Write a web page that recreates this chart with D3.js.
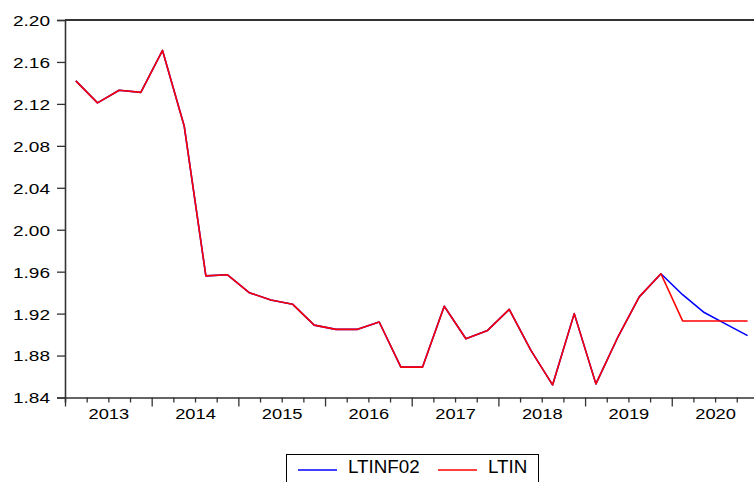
<!DOCTYPE html>
<html>
<head>
<meta charset="utf-8">
<script src="https://cdn.jsdelivr.net/npm/d3@7"></script>
<style>
  html, body { margin: 0; padding: 0; background: #fff; }
  svg { display: block; }
  text { font-family: Arial, "Liberation Sans", Helvetica, sans-serif; fill: #000; }
</style>
</head>
<body>
<svg id="chart" width="754" height="482"></svg>
<script>
// Quarterly periods, 2013Q1 - 2020Q4
const years = [2013, 2014, 2015, 2016, 2017, 2018, 2019, 2020];
const quarters = [
  "2013Q1","2013Q2","2013Q3","2013Q4","2014Q1","2014Q2","2014Q3","2014Q4",
  "2015Q1","2015Q2","2015Q3","2015Q4","2016Q1","2016Q2","2016Q3","2016Q4",
  "2017Q1","2017Q2","2017Q3","2017Q4","2018Q1","2018Q2","2018Q3","2018Q4",
  "2019Q1","2019Q2","2019Q3","2019Q4","2020Q1","2020Q2","2020Q3","2020Q4"
];

// Forecast series (LTINF02) and actual/static series (LTIN)
const ltinf02 = [
  2.142, 2.121, 2.133, 2.131, 2.171, 2.099, 1.956, 1.957,
  1.940, 1.933, 1.929, 1.909, 1.905, 1.905, 1.912, 1.869,
  1.869, 1.927, 1.896, 1.904, 1.924, 1.885, 1.852, 1.920,
  1.853, 1.897, 1.936, 1.958, 1.938, 1.921, 1.910, 1.899
];
const ltin = [
  2.142, 2.121, 2.133, 2.131, 2.171, 2.099, 1.956, 1.957,
  1.940, 1.933, 1.929, 1.909, 1.905, 1.905, 1.912, 1.869,
  1.869, 1.927, 1.896, 1.904, 1.924, 1.885, 1.852, 1.920,
  1.853, 1.897, 1.936, 1.958, 1.913, 1.913, 1.913, 1.913
];

const yTicks = [1.84, 1.88, 1.92, 1.96, 2.00, 2.04, 2.08, 2.12, 2.16, 2.20];
const seriesNames = ["LTINF02", "LTIN"];
const seriesColors = ["#0000ff", "#ff0000"];

const svg = d3.select("#chart");

const plotLeft = 65, plotTop = 20, plotBottom = 397.5;
const qWidth = 21.67;

const x = d3.scaleLinear()
  .domain([0, quarters.length])
  .range([plotLeft, plotLeft + quarters.length * qWidth]);
const y = d3.scaleLinear()
  .domain([1.84, 2.20])
  .range([plotBottom, plotTop]);

const yStretch = 1.27; // horizontally widened tick lettering
const xStretch = 1.22;

// top frame line
svg.append("line")
  .attr("x1", plotLeft).attr("x2", 754)
  .attr("y1", plotTop).attr("y2", plotTop)
  .attr("stroke", "#333").attr("stroke-width", 2);

// Y axis
const yAxis = svg.append("g")
  .attr("transform", `translate(${plotLeft},0)`)
  .call(d3.axisLeft(y).tickValues(yTicks).tickFormat(d3.format(".2f")).tickSize(8).tickPadding(7));
yAxis.select(".domain").attr("stroke", "#333").attr("stroke-width", 1.6);
yAxis.selectAll(".tick line").attr("stroke", "#333").attr("stroke-width", 1.3);
yAxis.selectAll(".tick text")
  .attr("font-size", 15)
  .attr("font-family", "Arial, 'Liberation Sans', sans-serif")
  .attr("dy", "0.36em")
  .each(function() {
    const t = d3.select(this);
    const xx = +t.attr("x");
    t.attr("x", xx / yStretch).attr("transform", `scale(${yStretch},1)`);
  });

// X axis: quarter ticks (minor) and year ticks (major)
const quarterIdx = d3.range(0, quarters.length + 1).filter(i => i % 4 !== 0);
const yearIdx = d3.range(0, quarters.length + 1, 4);

const xMinor = svg.append("g")
  .attr("transform", `translate(0,${plotBottom})`)
  .call(d3.axisBottom(x).tickValues(quarterIdx).tickSize(5).tickFormat(""));
xMinor.select(".domain").attr("stroke", "#333").attr("stroke-width", 1.6);
xMinor.selectAll(".tick line").attr("stroke", "#333").attr("stroke-width", 1.3);

const xMajor = svg.append("g")
  .attr("transform", `translate(0,${plotBottom})`)
  .call(d3.axisBottom(x).tickValues(yearIdx).tickSize(9).tickFormat(""));
xMajor.select(".domain").remove();
xMajor.selectAll(".tick line").attr("stroke", "#333").attr("stroke-width", 1.3);

// year labels centred on each year's span
const xLabels = svg.append("g")
  .attr("transform", `translate(0,${plotBottom})`)
  .call(d3.axisBottom(x)
    .tickValues(years.map((yr, i) => i * 4 + 2))
    .tickFormat((d, i) => String(years[i]))
    .tickSize(0).tickPadding(14));
xLabels.select(".domain").remove();
xLabels.selectAll(".tick text")
  .attr("font-size", 15)
  .attr("font-family", "Arial, 'Liberation Sans', sans-serif")
  .attr("dy", "0.5em")
  .attr("transform", `scale(${xStretch},1)`);

// series lines: blue underneath, red on top
const line = d3.line()
  .x((d, i) => x(i + 0.5))
  .y(d => y(d));

[ltinf02, ltin].forEach((vals, k) => {
  svg.append("path")
    .datum(vals)
    .attr("fill", "none")
    .attr("stroke", seriesColors[k])
    .attr("stroke-width", 1.6)
    .attr("stroke-linejoin", "round")
    .attr("d", line);
});

// legend
const legend = svg.append("g");
legend.append("rect")
  .attr("x", 286.5).attr("y", 454.5)
  .attr("width", 252).attr("height", 40)
  .attr("fill", "#fff").attr("stroke", "#000").attr("stroke-width", 1);

const legendItems = [
  { name: seriesNames[0], color: seriesColors[0], x0: 298, tx: 348 },
  { name: seriesNames[1], color: seriesColors[1], x0: 438, tx: 488 }
];
legendItems.forEach(it => {
  legend.append("line")
    .attr("x1", it.x0).attr("x2", it.x0 + 39)
    .attr("y1", 470).attr("y2", 470)
    .attr("stroke", it.color).attr("stroke-width", 1.3);
  legend.append("text")
    .attr("x", it.tx).attr("y", 472.5)
    .attr("font-size", 18.8)
    .text(it.name);
});
</script>
</body>
</html>
